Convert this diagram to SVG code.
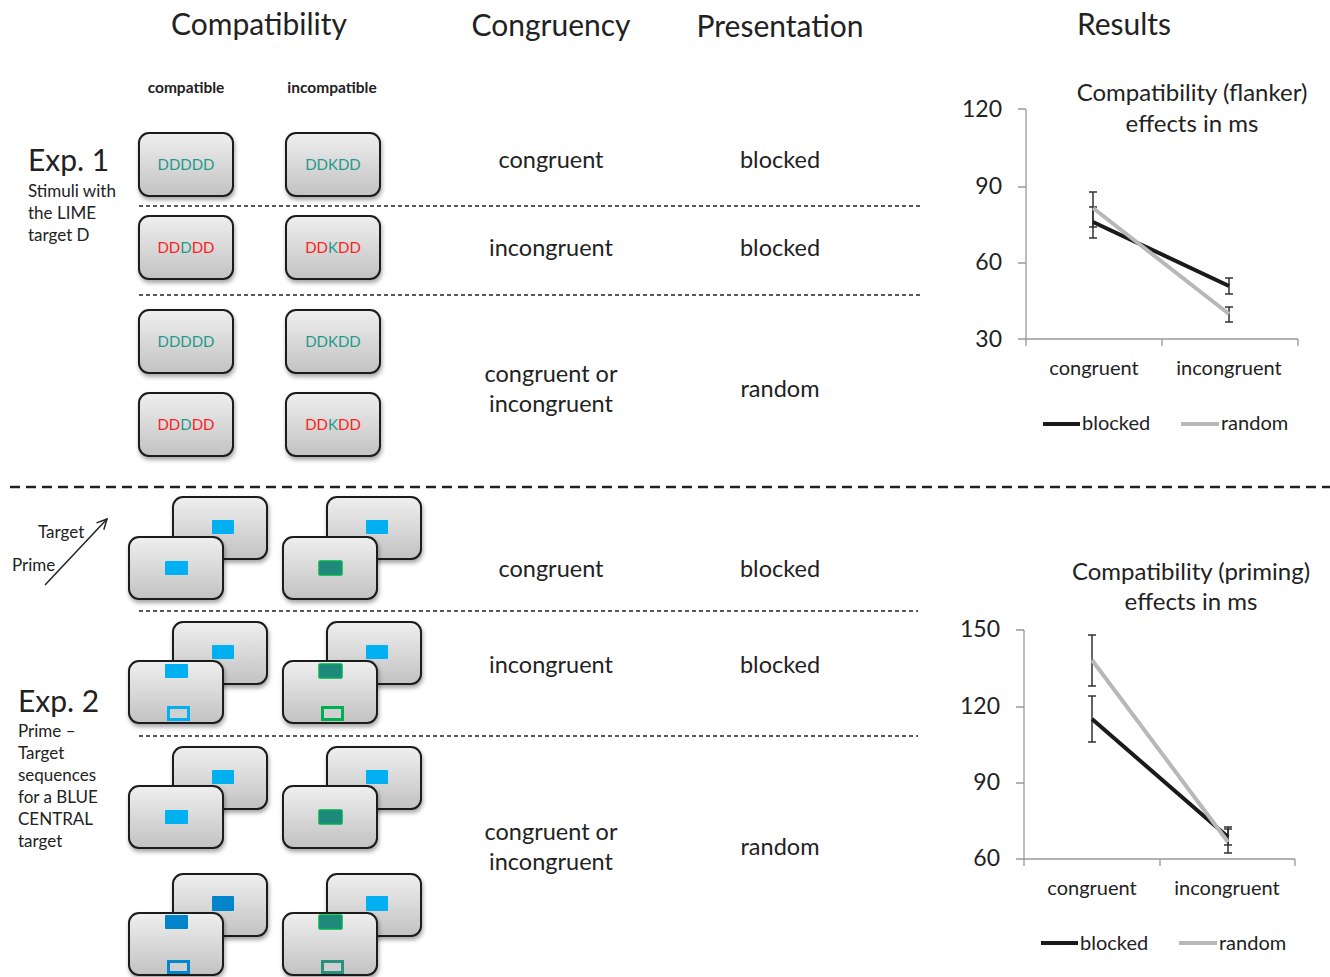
<svg xmlns="http://www.w3.org/2000/svg" xmlns:xlink="http://www.w3.org/1999/xlink" width="1330" height="977" viewBox="0 0 1330 977">
<style>
text{font-family:Lato,"Open Sans","Liberation Sans",sans-serif;fill:#222}
.h{font-size:30px;text-anchor:middle}
.m{font-size:23.5px;text-anchor:middle}
.sb{font-size:15.5px;font-weight:bold;text-anchor:middle}
.exp{font-size:30px}
.s{font-size:17px}
.st{font-size:15px;text-anchor:middle}
.ax{font-size:23px;text-anchor:end}
.xl{font-size:20px;text-anchor:middle}
.lg{font-size:20px}
.gt{font-size:24px;text-anchor:middle}
.card{fill:url(#cg);stroke:#1a1a1a;stroke-width:2;filter:url(#sh)}
.dash{stroke:#222;stroke-width:1.3;stroke-dasharray:4 3;fill:none}
.big{stroke:#222;stroke-width:2.5;stroke-dasharray:10 6;fill:none}
.lb{fill:#00b0f0}
.dbl{fill:#0085cc}
.tl{fill:#1f8a7c;stroke:#00b050;stroke-width:1.5}
.axis{stroke:#999;stroke-width:1.3;fill:none}
.eb{stroke:#333;stroke-width:1.5;fill:none}
.blk{stroke:#1a1a1a;stroke-width:4;fill:none}
.rnd{stroke:#b8b8b8;stroke-width:4;fill:none}
.tc{fill:#1f9a8a}
.rc{fill:#ff2020}
</style>
<defs>
<linearGradient id="cg" x1="0" y1="0" x2="0" y2="1">
<stop offset="0" stop-color="#efefef"/>
<stop offset="1" stop-color="#c2c2c2"/>
</linearGradient>
<filter id="sh" x="-10%" y="-10%" width="125%" height="130%">
<feDropShadow dx="1" dy="3" stdDeviation="2" flood-color="#000" flood-opacity="0.35"/>
</filter>
<marker id="arr" viewBox="0 0 12 12" refX="11" refY="6" markerWidth="12" markerHeight="12" markerUnits="userSpaceOnUse" orient="auto">
<path d="M1,1 L11,6 L1,11" fill="none" stroke="#222" stroke-width="1.5"/>
</marker>
<rect id="c1" width="94" height="63" rx="10" class="card"/>
<rect id="c2" width="94" height="62" rx="10" class="card"/>
</defs>

<rect width="1330" height="977" fill="#fff"/>

<g id="headers">
<text class="h" x="259" y="35">Compatibility</text>
<text class="h" x="551" y="36">Congruency</text>
<text class="h" x="780" y="37">Presentation</text>
<text class="h" x="1124" y="35">Results</text>
<text class="sb" x="186" y="93">compatible</text>
<text class="sb" x="332" y="93">incompatible</text>
</g>

<g id="exp1-label">
<text class="exp" x="28" y="171">Exp. 1</text>
<text class="s" x="28" y="197">Stimuli with</text>
<text class="s" x="28" y="219">the LIME</text>
<text class="s" x="28" y="241">target D</text>
</g>

<g id="exp1-stimuli">
<use xlink:href="#c1" x="139" y="133"/>
<use xlink:href="#c1" x="286" y="133"/>
<use xlink:href="#c1" x="139" y="216"/>
<use xlink:href="#c1" x="286" y="216"/>
<use xlink:href="#c1" x="139" y="310"/>
<use xlink:href="#c1" x="286" y="310"/>
<use xlink:href="#c1" x="139" y="393"/>
<use xlink:href="#c1" x="286" y="393"/>
<text class="st tc" x="186" y="170">DDDDD</text>
<text class="st tc" x="333" y="170">DDKDD</text>
<text class="st" x="186" y="253"><tspan class="rc">DD</tspan><tspan class="tc">D</tspan><tspan class="rc">DD</tspan></text>
<text class="st" x="333" y="253"><tspan class="rc">DD</tspan><tspan class="tc">K</tspan><tspan class="rc">DD</tspan></text>
<text class="st tc" x="186" y="347">DDDDD</text>
<text class="st tc" x="333" y="347">DDKDD</text>
<text class="st" x="186" y="430"><tspan class="rc">DD</tspan><tspan class="tc">D</tspan><tspan class="rc">DD</tspan></text>
<text class="st" x="333" y="430"><tspan class="rc">DD</tspan><tspan class="tc">K</tspan><tspan class="rc">DD</tspan></text>
</g>

<g id="exp1-conditions">
<text class="m" x="551" y="168">congruent</text>
<text class="m" x="780" y="168">blocked</text>
<text class="m" x="551" y="256">incongruent</text>
<text class="m" x="780" y="256">blocked</text>
<text class="m" x="551" y="382">congruent or</text>
<text class="m" x="551" y="412">incongruent</text>
<text class="m" x="780" y="397">random</text>
</g>

<g id="separators">
<line class="dash" x1="139" y1="206" x2="921" y2="206"/>
<line class="dash" x1="139" y1="295" x2="921" y2="295"/>
<line class="big" x1="10" y1="487" x2="1330" y2="487"/>
<line class="dash" x1="139" y1="611" x2="918" y2="611"/>
<line class="dash" x1="139" y1="736" x2="918" y2="736"/>
</g>

<g id="prime-target-arrow">
<line x1="45" y1="585" x2="107" y2="519" stroke="#222" stroke-width="1.5" marker-end="url(#arr)"/>
<text class="s" x="38" y="538">Target</text>
<text class="s" x="12" y="571">Prime</text>
</g>

<g id="exp2-label">
<text class="exp" x="18" y="712">Exp. 2</text>
<text class="s" x="18" y="737">Prime –</text>
<text class="s" x="18" y="759">Target</text>
<text class="s" x="18" y="781">sequences</text>
<text class="s" x="18" y="803">for a BLUE</text>
<text class="s" x="18" y="825">CENTRAL</text>
<text class="s" x="18" y="847">target</text>
</g>

<g id="exp2-row1">
<use xlink:href="#c2" x="173" y="497"/>
<rect class="lb" x="212" y="520" width="22" height="14" rx="1"/>
<use xlink:href="#c2" x="129" y="537"/>
<rect class="lb" x="165" y="561" width="23" height="14" rx="1"/>
<use xlink:href="#c2" x="327" y="497"/>
<rect class="lb" x="366" y="520" width="22" height="14" rx="1"/>
<use xlink:href="#c2" x="283" y="537"/>
<rect class="tl" x="319" y="561" width="23" height="14" rx="1"/>
</g>

<g id="exp2-row2">
<use xlink:href="#c2" x="173" y="622"/>
<rect class="lb" x="212" y="645" width="22" height="14" rx="1"/>
<use xlink:href="#c2" x="129" y="661"/>
<rect class="lb" x="165" y="664" width="23" height="14" rx="1"/>
<rect x="168.5" y="707.5" width="20" height="12" fill="#d0d0d0" stroke="#00b0f0" stroke-width="3"/>
<use xlink:href="#c2" x="327" y="622"/>
<rect class="lb" x="366" y="645" width="22" height="14" rx="1"/>
<use xlink:href="#c2" x="283" y="661"/>
<rect class="tl" x="319" y="664" width="23" height="14" rx="1"/>
<rect x="322.5" y="707.5" width="20" height="12" fill="#d0d0d0" stroke="#00b050" stroke-width="3"/>
</g>

<g id="exp2-row3">
<use xlink:href="#c2" x="173" y="747"/>
<rect class="lb" x="212" y="770" width="22" height="14" rx="1"/>
<use xlink:href="#c2" x="129" y="786"/>
<rect class="lb" x="165" y="810" width="23" height="14" rx="1"/>
<use xlink:href="#c2" x="327" y="747"/>
<rect class="lb" x="366" y="770" width="22" height="14" rx="1"/>
<use xlink:href="#c2" x="283" y="786"/>
<rect class="tl" x="319" y="810" width="23" height="14" rx="1"/>
</g>

<g id="exp2-row4">
<use xlink:href="#c2" x="173" y="874"/>
<rect class="dbl" x="212" y="896" width="22" height="15" rx="1"/>
<use xlink:href="#c2" x="129" y="913"/>
<rect class="dbl" x="165" y="915" width="23" height="14" rx="1"/>
<rect x="168.5" y="961.5" width="20" height="11" fill="#d0d0d0" stroke="#0088cc" stroke-width="3"/>
<use xlink:href="#c2" x="327" y="874"/>
<rect class="lb" x="366" y="896" width="22" height="15" rx="1"/>
<use xlink:href="#c2" x="283" y="913"/>
<rect class="tl" x="319" y="915" width="23" height="14" rx="1"/>
<rect x="322.5" y="961.5" width="20" height="11" fill="#d0d0d0" stroke="#2a9080" stroke-width="3"/>
</g>

<g id="exp2-conditions">
<text class="m" x="551" y="577">congruent</text>
<text class="m" x="780" y="577">blocked</text>
<text class="m" x="551" y="673">incongruent</text>
<text class="m" x="780" y="673">blocked</text>
<text class="m" x="551" y="840">congruent or</text>
<text class="m" x="551" y="870">incongruent</text>
<text class="m" x="780" y="855">random</text>
</g>

<g id="chart1">
<text class="gt" x="1192" y="101">Compatibility (flanker)</text>
<text class="gt" x="1192" y="132">effects in ms</text>
<path class="axis" d="M1026,109 V346 M1018,109 H1026 M1018,187 H1026 M1018,263 H1026 M1018,339 H1298 M1162,339 V346 M1298,339 V346"/>
<text class="ax" x="1002" y="117">120</text>
<text class="ax" x="1002" y="194">90</text>
<text class="ax" x="1002" y="270">60</text>
<text class="ax" x="1002" y="347">30</text>
<path class="eb" d="M1093,192 V227 M1089,192 H1097 M1089,227 H1097"/>
<path class="eb" d="M1093,207 V238 M1089,207 H1097 M1089,238 H1097"/>
<path class="eb" d="M1229,278 V294 M1225,278 H1233 M1225,294 H1233"/>
<path class="eb" d="M1229,307 V322 M1225,307 H1233 M1225,322 H1233"/>
<line class="blk" x1="1093" y1="222" x2="1229" y2="286"/>
<line class="rnd" x1="1093" y1="208" x2="1229" y2="314"/>
<text class="xl" x="1094" y="375">congruent</text>
<text class="xl" x="1229" y="375">incongruent</text>
<line class="blk" x1="1043" y1="424" x2="1080" y2="424"/>
<text class="lg" x="1082" y="430">blocked</text>
<line class="rnd" x1="1181" y1="424" x2="1219" y2="424"/>
<text class="lg" x="1221" y="430">random</text>
</g>

<g id="chart2">
<text class="gt" x="1191" y="580">Compatibility (priming)</text>
<text class="gt" x="1191" y="610">effects in ms</text>
<path class="axis" d="M1024,630 V866 M1016,630 H1024 M1016,707 H1024 M1016,783 H1024 M1016,859 H1295 M1160,859 V866 M1295,859 V866"/>
<text class="ax" x="1000" y="637">150</text>
<text class="ax" x="1000" y="714">120</text>
<text class="ax" x="1000" y="790">90</text>
<text class="ax" x="1000" y="866">60</text>
<path class="eb" d="M1092,635 V686 M1088,635 H1096 M1088,686 H1096"/>
<path class="eb" d="M1092,696 V742 M1088,696 H1096 M1088,742 H1096"/>
<path class="eb" d="M1228,827 V845 M1224,827 H1232 M1224,845 H1232"/>
<path class="eb" d="M1228,829 V853 M1224,829 H1232 M1224,853 H1232"/>
<line class="blk" x1="1092" y1="719" x2="1228" y2="837"/>
<line class="rnd" x1="1092" y1="660" x2="1228" y2="842"/>
<text class="xl" x="1092" y="895">congruent</text>
<text class="xl" x="1227" y="895">incongruent</text>
<line class="blk" x1="1041" y1="943" x2="1078" y2="943"/>
<text class="lg" x="1080" y="950">blocked</text>
<line class="rnd" x1="1179" y1="943" x2="1217" y2="943"/>
<text class="lg" x="1219" y="950">random</text>
</g>
</svg>
